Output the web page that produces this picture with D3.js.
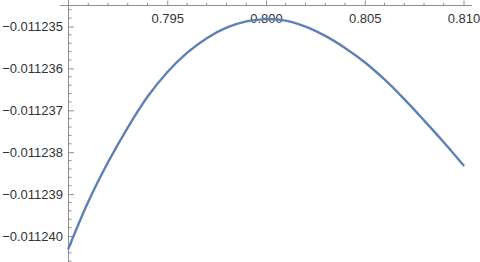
<!DOCTYPE html>
<html>
<head>
<meta charset="utf-8">
<script src="https://cdn.jsdelivr.net/npm/d3@7"></script>
<style>
	body { margin: 0; background: #fff; }
	#chart { width: 480px; height: 262px; }
	.tick text { font-family: "Liberation Sans", Arial, sans-serif; font-size: 13px; fill: #333; }
</style>
</head>
<body>
<div id="chart"></div>
<script>
// values, one point per 0.001 on x
const xs = [0.790, 0.791, 0.792, 0.793, 0.794, 0.795, 0.796, 0.797, 0.798, 0.799, 0.800,
	0.801, 0.802, 0.803, 0.804, 0.805, 0.806, 0.807, 0.808, 0.809, 0.810];
const ys = [-0.0112402980, -0.0112391840, -0.0112382410, -0.0112374110, -0.0112366780,
	-0.0112360910, -0.0112356300, -0.0112352790, -0.0112350290, -0.0112348780,
	-0.0112348230, -0.0112348590, -0.0112350020, -0.0112352240, -0.0112355110,
	-0.0112358520, -0.0112362630, -0.0112367330, -0.0112372390, -0.0112377610,
	-0.0112383130];

const xTicks = [0.795, 0.800, 0.805, 0.810];
const yTicks = [-0.011235, -0.011236, -0.011237, -0.011238, -0.011239, -0.011240];
const xMinorStep = 0.001;
const yMinorStep = 0.0000002;

const width = 480, height = 262;
const axisX = 68.5,   // where the y axis sits
	axisY = 5.5;        // where the x axis sits

const svg = d3.select('#chart').append('svg')
	.attr('width', width)
	.attr('height', height);

const x = d3.scaleLinear()
	.domain([0.790, 0.810])
	.range([axisX, 463.5]);

const y = d3.scaleLinear()
	.domain([-0.011240, -0.011235])
	.range([236, 26.5]);

const axisColor = '#8f8f8f';

// minor ticks
const xMinor = d3.range(0.7896, 0.8104, xMinorStep)
	.map(v => Math.round(v * 1000) / 1000)
	.filter(v => v >= 0.7899 && xTicks.indexOf(v) < 0);
const yMinor = d3.range(-0.0112406, -0.0112344, yMinorStep)
	.map(v => Math.round(v * 1e7) / 1e7)
	.filter(v => y(v) > 0 && y(v) < height && yTicks.every(t => Math.abs(t - v) > 1e-9));

// x axis, ticks pointing up, labels below
const gx = svg.append('g')
	.attr('transform', `translate(0,${axisY})`);
gx.append('line')
	.attr('x1', 60).attr('x2', 472)
	.attr('stroke', axisColor);
gx.selectAll('.minor')
	.data(xMinor)
	.enter().append('line')
		.attr('x1', d => x(d)).attr('x2', d => x(d))
		.attr('y1', 0).attr('y2', -2.8)
		.attr('stroke', axisColor);
gx.append('g')
	.call(d3.axisBottom(x)
		.tickValues(xTicks)
		.tickFormat(d3.format('.3f'))
		.tickSizeInner(-5)
		.tickSizeOuter(0)
		.tickPadding(8))
	.call(g => g.select('.domain').remove())
	.call(g => g.selectAll('.tick line').attr('stroke', axisColor));

// y axis, ticks pointing right, labels left
const gy = svg.append('g')
	.attr('transform', `translate(${axisX},0)`);
gy.append('line')
	.attr('y1', 0).attr('y2', height)
	.attr('stroke', axisColor);
gy.selectAll('.minor')
	.data(yMinor)
	.enter().append('line')
		.attr('y1', d => y(d)).attr('y2', d => y(d))
		.attr('x1', 0).attr('x2', 3)
		.attr('stroke', axisColor);
gy.append('g')
	.call(d3.axisLeft(y)
		.tickValues(yTicks)
		.tickFormat(d3.format('.6f'))
		.tickSizeInner(-5.5)
		.tickSizeOuter(0)
		.tickPadding(5.5))
	.call(g => g.select('.domain').remove())
	.call(g => g.selectAll('.tick line').attr('stroke', axisColor));

// the curve
const line = d3.line()
	.x(d => x(d[0]))
	.y(d => y(d[1]))
	.curve(d3.curveCatmullRom);

svg.append('path')
	.datum(xs.map((v, i) => [v, ys[i]]))
	.attr('fill', 'none')
	.attr('stroke', '#5e81b5')
	.attr('stroke-width', 2.4)
	.attr('stroke-linecap', 'round')
	.attr('d', line);
</script>
</body>
</html>
